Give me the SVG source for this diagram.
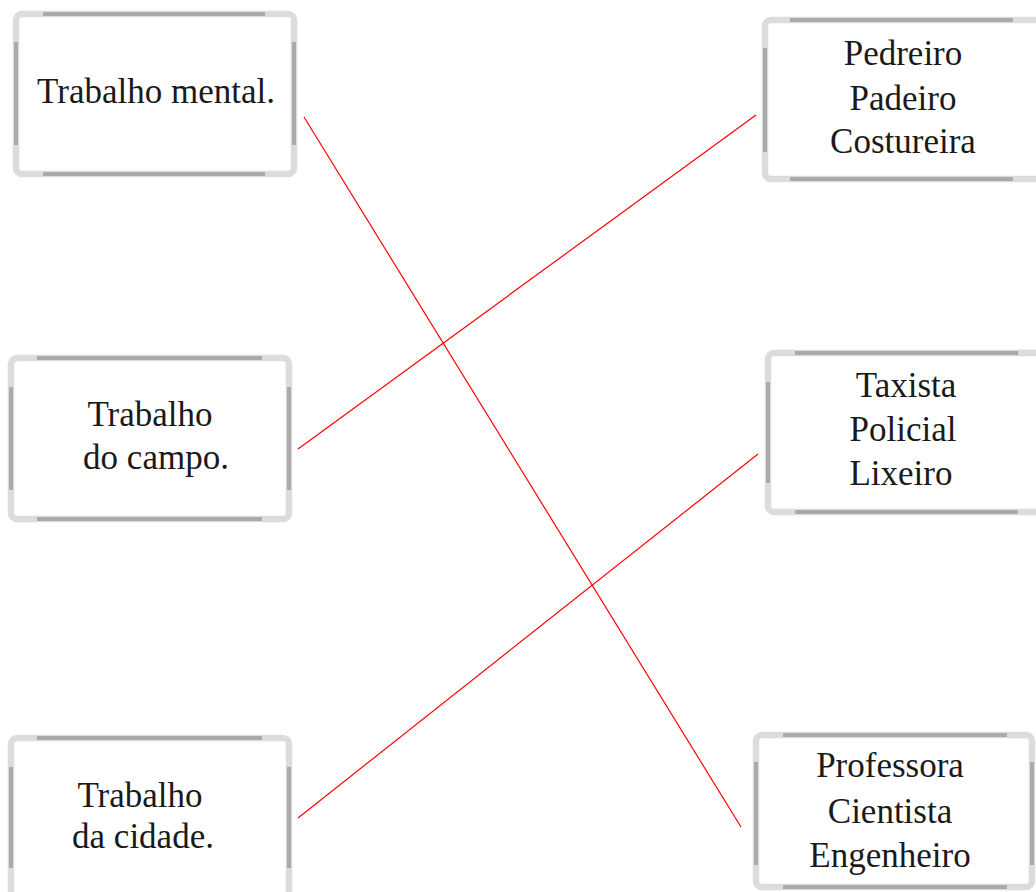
<svg xmlns="http://www.w3.org/2000/svg" width="1036" height="892" viewBox="0 0 1036 892">
<style>
.frame{fill:#fff;stroke:#dcdcdc;stroke-width:6.5}
.seg{stroke:#aaaaaa;stroke-width:4;fill:none}
.lbl{font-family:"Liberation Serif","DejaVu Serif",serif;font-size:35px;fill:#1a1a1a;text-anchor:middle}
.link{stroke:#ff0000;stroke-width:1.2;fill:none}
</style>
<rect width="1036" height="892" fill="#fff"/>
<g id="box-mental">
<rect class="frame" x="16" y="14" width="278" height="160" rx="6"/>
<path class="seg" d="M43 14H265M43 174H265M16 42V145M294 42V145"/>
<text class="lbl" x="156" y="103">Trabalho mental.</text>
</g>
<g id="box-campo">
<rect class="frame" x="11" y="358" width="278" height="161" rx="6"/>
<path class="seg" d="M37 358H262M37 519H262M11 387V490M289 387V490"/>
<text class="lbl" x="150" y="426">Trabalho</text>
<text class="lbl" x="156" y="469">do campo.</text>
</g>
<g id="box-cidade">
<rect class="frame" x="11" y="738" width="278" height="161" rx="6"/>
<path class="seg" d="M37 738H262M11 767V868M289 767V868"/>
<text class="lbl" x="140" y="807">Trabalho</text>
<text class="lbl" x="143" y="848">da cidade.</text>
</g>
<g id="box-pedreiro">
<rect class="frame" x="765" y="20" width="278" height="159" rx="6"/>
<path class="seg" d="M790 20H1013M790 179H1013M765 48V152"/>
<text class="lbl" x="903" y="65">Pedreiro</text>
<text class="lbl" x="903" y="110">Padeiro</text>
<text class="lbl" x="903" y="153">Costureira</text>
</g>
<g id="box-taxista">
<rect class="frame" x="768" y="353" width="278" height="159" rx="6"/>
<path class="seg" d="M795 353H1018M795 512H1018M768 382V483"/>
<text class="lbl" x="906" y="397">Taxista</text>
<text class="lbl" x="903" y="441">Policial</text>
<text class="lbl" x="901" y="485">Lixeiro</text>
</g>
<g id="box-professora">
<rect class="frame" x="756" y="735" width="276" height="152" rx="6"/>
<path class="seg" d="M783 735H1007M783 887H1007M756 762V865M1032 762V865"/>
<text class="lbl" x="890" y="777">Professora</text>
<text class="lbl" x="890" y="823">Cientista</text>
<text class="lbl" x="890" y="867">Engenheiro</text>
</g>
<g id="connectors">
<line class="link" x1="304" y1="117" x2="741" y2="827"/>
<line class="link" x1="298" y1="449" x2="756" y2="115"/>
<line class="link" x1="298" y1="818" x2="758" y2="454"/>
</g>
</svg>
